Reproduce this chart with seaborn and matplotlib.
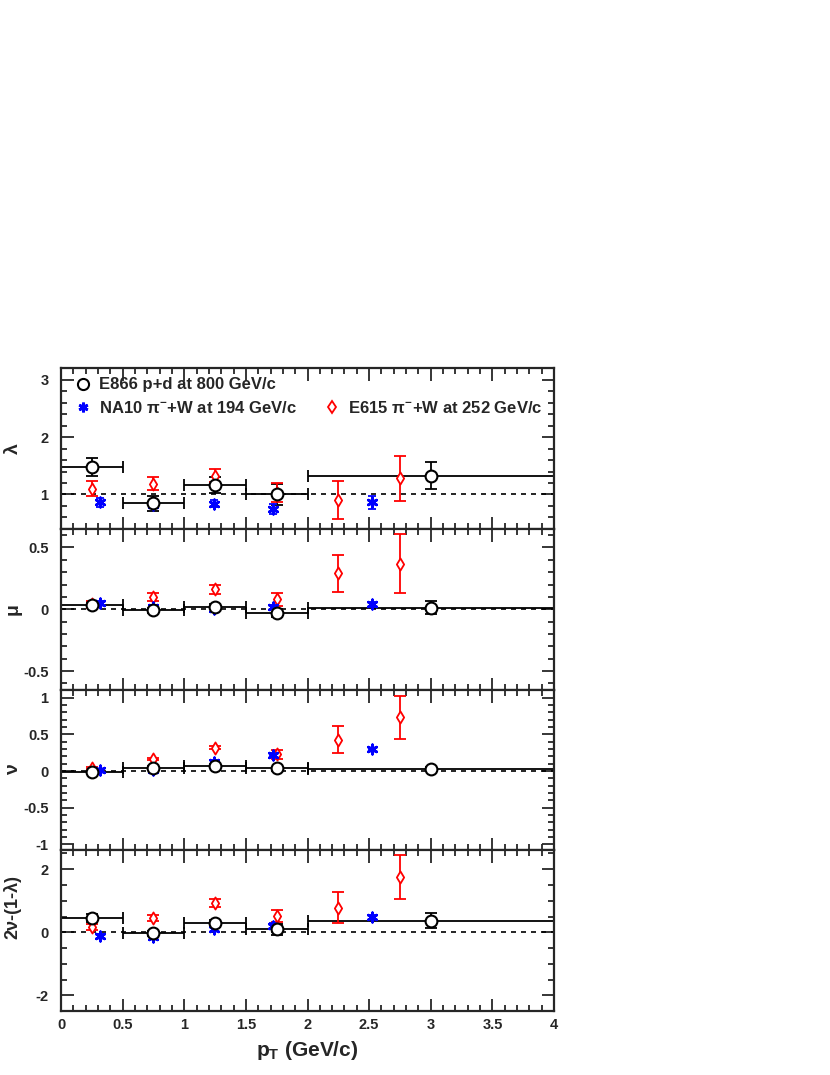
import numpy as np
import matplotlib
matplotlib.use("Agg")
import matplotlib.pyplot as plt
import seaborn as sns
from matplotlib.lines import Line2D
from matplotlib.ticker import MultipleLocator, FuncFormatter

# ---- data ----
# E866 p+d at 800 GeV/c (pT bins)
e866_pt = [0.25, 0.75, 1.25, 1.75, 3.0]
e866_pt_err = [0.25, 0.25, 0.25, 0.25, 1.0]
e866_lam = [1.48, 0.85, 1.16, 1.00, 1.33]
e866_lam_err = [0.16, 0.13, 0.14, 0.19, 0.24]
e866_mu = [0.035, -0.01, 0.02, -0.03, 0.014]
e866_mu_err = [0.02, 0.02, 0.02, 0.03, 0.05]
e866_nu = [-0.015, 0.045, 0.07, 0.037, 0.03]
e866_nu_err = [0.02, 0.02, 0.02, 0.02, 0.02]
e866_lt = [0.44, -0.03, 0.29, 0.09, 0.36]
e866_lt_err = [0.13, 0.08, 0.11, 0.18, 0.24]

# NA10 pi- + W at 194 GeV/c
na10_pt = [0.32, 0.75, 1.24, 1.72, 2.52]
na10_lam = [0.86, 0.81, 0.84, 0.75, 0.86]
na10_lam_err = [0.07, 0.05, 0.06, 0.09, 0.12]
na10_mu = [0.053, 0.016, 0.0, 0.02, 0.04]
na10_mu_err = [0.01, 0.015, 0.015, 0.015, 0.02]
na10_nu = [0.01, 0.01, 0.13, 0.225, 0.30]
na10_nu_err = [0.01, 0.01, 0.015, 0.015, 0.015]
na10_lt = [-0.13, -0.15, 0.09, 0.21, 0.48]
na10_lt_err = [0.06, 0.06, 0.05, 0.08, 0.07]

# E615 pi- + W at 252 GeV/c
e615_pt = [0.25, 0.75, 1.25, 1.75, 2.25, 2.75]
e615_lam = [1.10, 1.19, 1.33, 1.03, 0.90, 1.28]
e615_lam_err = [0.13, 0.12, 0.12, 0.17, 0.33, 0.39]
e615_mu = [0.04, 0.10, 0.16, 0.08, 0.29, 0.37]
e615_mu_err = [0.03, 0.035, 0.035, 0.05, 0.15, 0.235]
e615_nu = [0.04, 0.16, 0.32, 0.23, 0.43, 0.73]
e615_nu_err = [0.015, 0.015, 0.015, 0.06, 0.19, 0.29]
e615_lt = [0.17, 0.46, 0.94, 0.51, 0.78, 1.74]
e615_lt_err = [0.10, 0.09, 0.13, 0.19, 0.49, 0.70]

panel_labels = ["λ", "μ", "ν", "2ν-(1-λ)"]
panel_ylims = [(0.4, 3.2), (-0.65, 0.65), (-1.08, 1.11), (-2.5, 2.6)]
panel_major = [1, 0.5, 0.5, 2]
panel_minor = [0.2, 0.1, 0.1, 0.5]
panel_ref = [1, 0, 0, 0]

e866_y = [e866_lam, e866_mu, e866_nu, e866_lt]
e866_e = [e866_lam_err, e866_mu_err, e866_nu_err, e866_lt_err]
na10_y = [na10_lam, na10_mu, na10_nu, na10_lt]
na10_e = [na10_lam_err, na10_mu_err, na10_nu_err, na10_lt_err]
e615_y = [e615_lam, e615_mu, e615_nu, e615_lt]
e615_e = [e615_lam_err, e615_mu_err, e615_nu_err, e615_lt_err]

sns.set_style("ticks")
fam = ["Liberation Sans", "DejaVu Sans"]
plt.rcParams["font.family"] = fam
plt.rcParams["font.weight"] = "bold"
plt.rcParams["mathtext.fontset"] = "custom"
plt.rcParams["mathtext.rm"] = "Liberation Sans:bold"
plt.rcParams["mathtext.bf"] = "Liberation Sans:bold"
plt.rcParams["mathtext.it"] = "Liberation Sans:bold"

fig = plt.figure(figsize=(8.3, 10.75), dpi=100)
axes = fig.subplots(4, 1, sharex=True)
fig.subplots_adjust(left=0.0735, right=0.6675, top=0.6575, bottom=0.0595, hspace=0)

blue = "#0000ff"
red = "#ff0000"

for i, ax in enumerate(axes):
    ax.axhline(panel_ref[i], color="black", ls=(0, (3, 3)), lw=1.2, zorder=1)

    ax.errorbar(e866_pt, e866_y[i], xerr=e866_pt_err, yerr=e866_e[i], fmt="none",
                ecolor="black", elinewidth=1.3, capsize=4.5, capthick=1.3, zorder=2)
    ax.errorbar(e615_pt, e615_y[i], yerr=e615_e[i], fmt="none",
                ecolor=red, elinewidth=1.3, capsize=4.5, capthick=1.3, zorder=2)
    ax.errorbar(na10_pt, na10_y[i], yerr=na10_e[i], fmt="none",
                ecolor=blue, elinewidth=1.3, capsize=3, capthick=1.3, zorder=2)

    sns.scatterplot(x=e866_pt, y=e866_y[i], ax=ax, marker="o", s=72,
                    facecolor="white", edgecolor="black", linewidth=1.5, zorder=4)
    sns.scatterplot(x=e615_pt, y=e615_y[i], ax=ax, marker="d", s=38,
                    facecolor="white", edgecolor=red, linewidth=1.3, zorder=3)
    sns.scatterplot(x=na10_pt, y=na10_y[i], ax=ax, marker=(6, 2, 0), s=45,
                    color=blue, edgecolor=blue, linewidth=2.0, zorder=3)

    ax.set_ylim(*panel_ylims[i])
    ax.set_xlim(0, 4)
    ax.yaxis.set_major_locator(MultipleLocator(panel_major[i]))
    ax.yaxis.set_minor_locator(MultipleLocator(panel_minor[i]))
    ax.xaxis.set_major_locator(MultipleLocator(0.5))
    ax.xaxis.set_minor_locator(MultipleLocator(0.1))
    ax.yaxis.set_major_formatter(FuncFormatter(lambda v, p: f"{v:g}"))
    ax.xaxis.set_major_formatter(FuncFormatter(lambda v, p: f"{v:g}"))
    ax.tick_params(which="both", direction="in", top=True, right=True, width=1.3)
    ax.tick_params(which="major", length=9, labelsize=10.5, pad=9)
    ax.tick_params(which="minor", length=4.5)
    ax.tick_params(axis="x", which="major", pad=5)
    for sp in ax.spines.values():
        sp.set_linewidth(1.6)
    fs = 14 if i < 3 else 13
    ax.set_ylabel(panel_labels[i], fontsize=fs, fontweight="bold", family=fam)
    ax.yaxis.set_label_coords(-0.08, 0.5 if i < 3 else 0.65)

axes[-1].set_xlabel(r"$\mathbf{p_T}$ (GeV/c)", fontsize=15, fontweight="bold")
axes[-1].xaxis.labelpad = 5

# legend: E866 alone on the first row, NA10 and E615 side by side on the second
h_e866 = Line2D([], [], ls="none", marker="o", ms=8, mfc="white", mec="black", mew=1.5)
h_na10 = Line2D([], [], ls="none", marker=(6, 2, 0), ms=7, color=blue, mew=2.0)
h_e615 = Line2D([], [], ls="none", marker="d", ms=6.5, mfc="white", mec=red, mew=1.3)
h_blank = Line2D([], [], ls="none")
leg = axes[0].legend([h_e866, h_na10, h_blank, h_e615],
                     ["E866 p+d at 800 GeV/c", r"NA10 $\pi^{-}$+W at 194 GeV/c", "",
                      r"E615 $\pi^{-}$+W at 252 GeV/c"],
                     ncol=2, loc="upper left", bbox_to_anchor=(0.01, 1.0),
                     frameon=False, handlelength=0.9, handletextpad=0.55,
                     columnspacing=1.6, labelspacing=0.45, borderaxespad=0.15,
                     prop={"family": fam, "weight": "bold", "size": 12})

fig.savefig("out.png", dpi=100)
